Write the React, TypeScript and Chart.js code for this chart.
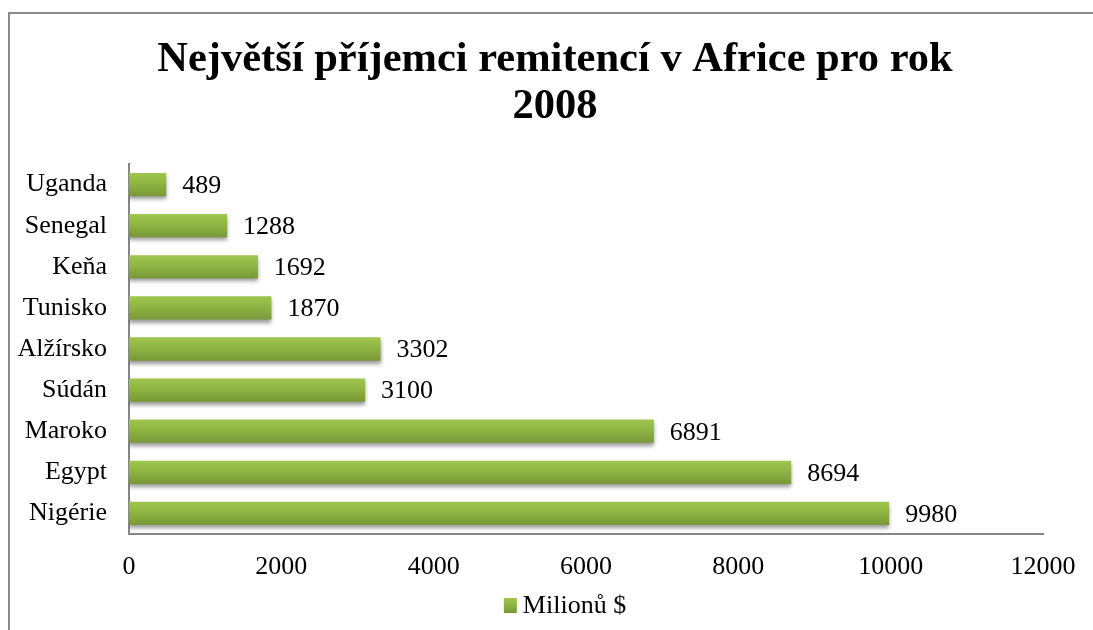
import React, { useEffect, useRef } from 'react';
import { Chart, registerables } from 'chart.js';

Chart.register(...registerables);

const titleLines = ['Největší příjemci remitencí v Africe pro rok', '2008'];
const categories = ['Nigérie', 'Egypt', 'Maroko', 'Súdán', 'Alžírsko', 'Tunisko', 'Keňa', 'Senegal', 'Uganda'];
const values = [9980, 8694, 6891, 3100, 3302, 1870, 1692, 1288, 489];
const seriesLabel = 'Milionů $';
const xMin = 0;
const xMax = 12000;
const xStep = 2000;

const FONT = "'Liberation Serif', 'Times New Roman', serif";

function barGradient(ctx: CanvasRenderingContext2D, top: number, bottom: number) {
  const g = ctx.createLinearGradient(0, top, 0, bottom);
  g.addColorStop(0, '#a0c74f');
  g.addColorStop(0.5, '#8db243');
  g.addColorStop(1, '#779737');
  return g;
}

const shadowPlugin = {
  id: 'barShadow',
  beforeDatasetsDraw(chart: any) {
    const c = chart.ctx;
    c.save();
    c.shadowColor = 'rgba(0,0,0,0.4)';
    c.shadowBlur = 4;
    c.shadowOffsetX = 0;
    c.shadowOffsetY = 3;
  },
  afterDatasetsDraw(chart: any) {
    chart.ctx.restore();
  },
};

const labelsPlugin = {
  id: 'valueLabels',
  afterDraw(chart: any) {
    const c = chart.ctx;
    const meta = chart.getDatasetMeta(0);
    c.save();
    c.font = `26px ${FONT}`;
    c.fillStyle = '#000';
    c.textAlign = 'left';
    c.textBaseline = 'middle';
    meta.data.forEach((el: any, i: number) => {
      c.fillText(String(chart.data.datasets[0].data[i]), el.x + 16, el.y + 1.5);
    });
    // legend
    const label = chart.data.datasets[0].label;
    const tw = c.measureText(label).width;
    const box = 13;
    const gap = 6;
    const total = box + gap + tw;
    const x0 = chart.width / 2 - total / 2 + 10;
    const cy = chart.chartArea.bottom + 71;
    c.fillStyle = barGradient(c, cy - 7, cy + 8);
    c.fillRect(x0, cy - 7, box, 15);
    c.fillStyle = '#000';
    c.fillText(label, x0 + box + gap, cy + 1);
    c.restore();
  },
};

export default function App() {
  const ref = useRef<HTMLCanvasElement | null>(null);

  useEffect(() => {
    document.documentElement.style.overflow = 'hidden';
    document.body.style.overflow = 'hidden';
    const canvas = ref.current;
    if (!canvas) return;
    const chart = new Chart(canvas, {
      type: 'bar',
      data: {
        labels: categories,
        datasets: [
          {
            label: seriesLabel,
            data: values,
            backgroundColor: (ctx: any) => {
              const y = ctx.chart.scales && ctx.chart.scales.y;
              if (!y || y.getPixelForValue == null) return '#8db243';
              const center = y.getPixelForValue(ctx.dataIndex);
              if (!isFinite(center)) return '#8db243';
              return barGradient(ctx.chart.ctx, center - 12, center + 12);
            },
            borderWidth: 0,
            categoryPercentage: 1,
            barPercentage: 0.566,
          },
        ],
      },
      options: {
        indexAxis: 'y',
        animation: false,
        responsive: false,
        maintainAspectRatio: false,
        devicePixelRatio: 1,
        layout: { padding: 0 },
        plugins: {
          legend: { display: false },
          tooltip: { enabled: false },
          title: {
            display: true,
            text: titleLines,
            color: '#000',
            font: { family: FONT, size: 42.5, weight: 'bold', lineHeight: 1.106 },
            padding: { top: 23, bottom: 33 },
          },
        },
        scales: {
          x: {
            min: xMin,
            max: xMax,
            grid: { display: false, drawTicks: false },
            border: { display: true, color: '#868686', width: 2 },
            ticks: {
              stepSize: xStep,
              color: '#000',
              font: { family: FONT, size: 26 },
              padding: 18,
              maxRotation: 0,
              callback: (v: any) => String(v),
            },
            afterFit: (s: any) => {
              s.height = 120;
            },
          },
          y: {
            reverse: true,
            grid: { display: false, drawTicks: false },
            border: { display: true, color: '#868686', width: 2 },
            ticks: {
              color: '#000',
              font: { family: FONT, size: 26 },
              padding: 22,
            },
            afterFit: (s: any) => {
              s.width = 119;
            },
          },
          yRight: {
            type: 'category',
            position: 'right',
            grid: { display: false, drawTicks: false },
            border: { display: false },
            ticks: { display: false },
            afterFit: (s: any) => {
              s.width = 57;
            },
          },
        },
      },
      plugins: [shadowPlugin, labelsPlugin],
    } as any);
    return () => chart.destroy();
  }, []);

  return (
    <div
      style={{
        position: 'fixed',
        left: 8,
        top: 12,
        width: 1090,
        height: 640,
        border: '2px solid #8a8a8a',
        background: '#fff',
      }}
    >
      <canvas ref={ref} width={1090} height={640} style={{ display: 'block', width: 1090, height: 640 }} />
    </div>
  );
}
